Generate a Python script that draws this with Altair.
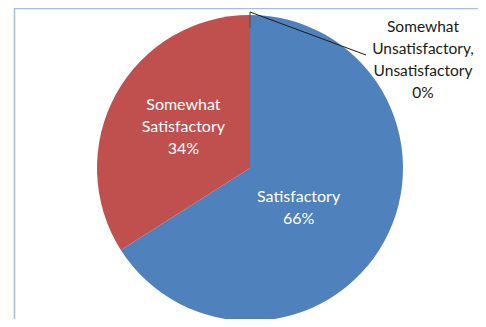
import altair as alt
import pandas as pd

categories = ["Satisfactory", "Somewhat Satisfactory", "Somewhat Unsatisfactory, Unsatisfactory"]
label_lines = ["Satisfactory", "Somewhat\nSatisfactory", "Somewhat\nUnsatisfactory,\nUnsatisfactory"]
values = [66, 34, 0]
colors = ["#4F81BD", "#C0504D", "#9BBB59"]

df = pd.DataFrame({
    "category": categories,
    "name": label_lines,
    "value": values,
    "idx": list(range(len(categories))),
})
df["label"] = df["name"] + "\n" + df["value"].astype(str) + "%"

CX, CY, R = 236, 160, 153
FONT = "Lato"

base = alt.Chart(df)

theta = alt.Theta("value:Q", stack=True)
order = alt.Order("idx:Q")

pie = base.mark_arc(outerRadius=R).encode(
    theta=theta,
    order=order,
    color=alt.Color("category:N", scale=alt.Scale(domain=categories, range=colors), legend=None),
    x=alt.value(CX),
    y=alt.value(CY),
)


def slice_label(cat, radius, dx, dy, color, size=16):
    return base.mark_text(
        font=FONT, fontSize=size, lineBreak="\n", lineHeight=22,
        align="center", baseline="middle", dx=dx, dy=dy, color=color,
    ).encode(
        theta=theta,
        order=order,
        radius=alt.value(radius),
        x=alt.value(CX),
        y=alt.value(CY),
        text=alt.condition(alt.datum.category == cat, "label:N", alt.value("")),
    )


lab_blue = slice_label(categories[0], 60, -4, 0, "white")
lab_red = slice_label(categories[1], 76, 0, -26, "white")
lab_zero = slice_label(categories[2], 109, 173, -32, "#1a1a1a", size=15.5)

one = pd.DataFrame({"k": [0]})
leader = alt.Chart(one).mark_rule(color="#1a1a1a", strokeWidth=1).encode(
    x=alt.value(CX), y=alt.value(4), x2=alt.value(352), y2=alt.value(47)
)
leader_v = alt.Chart(one).mark_rule(color="#555555", strokeWidth=1.2).encode(
    x=alt.value(CX), y=alt.value(4), x2=alt.value(CX), y2=alt.value(20)
)
border_l = alt.Chart(one).mark_rule(color="#A7BEDC", strokeWidth=1.5).encode(
    x=alt.value(0.5), y=alt.value(0), x2=alt.value(0.5), y2=alt.value(311)
)
border_t = alt.Chart(one).mark_rule(color="#A7BEDC", strokeWidth=1.5).encode(
    x=alt.value(0), y=alt.value(0.5), x2=alt.value(464), y2=alt.value(0.5)
)

chart = alt.layer(pie, leader_v, leader, lab_blue, lab_red, lab_zero, border_l, border_t).properties(
    width=464, height=311,
    padding={"left": 6, "top": 0, "right": 0, "bottom": 0},
    autosize="none",
).configure_view(stroke=None)

chart.save("out.html", embed_options={"renderer": "svg", "actions": False})
